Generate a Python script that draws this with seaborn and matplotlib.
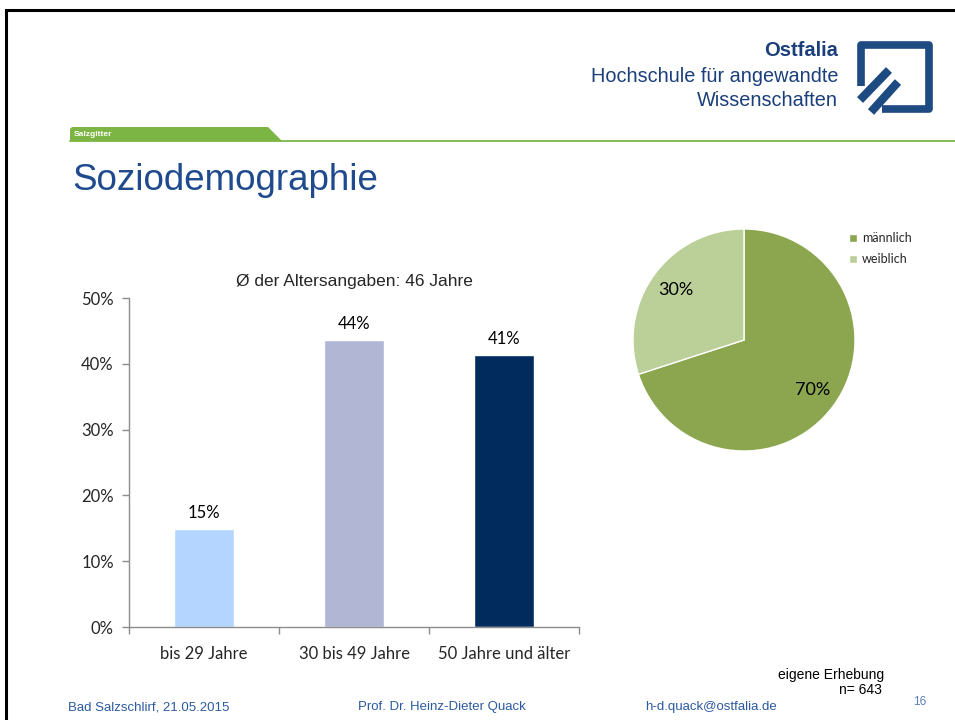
import matplotlib
matplotlib.use("Agg")
import matplotlib.pyplot as plt
import matplotlib.patches as mpatches
from matplotlib.ticker import PercentFormatter, FixedLocator
import seaborn as sns

# data
age_groups = ["bis 29 Jahre", "30 bis 49 Jahre", "50 Jahre und älter"]
age_shares = [0.149, 0.436, 0.413]
age_labels = ["15%", "44%", "41%"]
age_colors = ["#B3D5FF", "#B0B6D4", "#002B5C"]

gender = ["männlich", "weiblich"]
gender_shares = [70, 30]
gender_colors = ["#8BA64F", "#BBCF99"]

W, H = 955, 720
sns.set_theme(style="white")
plt.rcParams["font.family"] = ["Lato", "DejaVu Sans"]

fig = plt.figure(figsize=(W / 100, H / 100), dpi=100)
fig.patch.set_facecolor("white")


def px_axes(x0, y0, x1, y1, **kw):
    # rectangle in pixel coords (y from top)
    return fig.add_axes([x0 / W, 1 - y1 / H, (x1 - x0) / W, (y1 - y0) / H], **kw)


# slide decoration layer
deco = px_axes(0, 0, W, H)
deco.set_xlim(0, W)
deco.set_ylim(H, 0)
deco.axis("off")
deco.set_zorder(0)

deco.plot([6, 6, W + 5], [H + 5, 10, 10], color="black", lw=2.2, solid_joinstyle="miter")

green = "#7DB544"
deco.plot([70, W], [141, 141], color=green, lw=1.3)
deco.add_patch(mpatches.Polygon([[70, 141], [70, 129], [72, 127], [268, 127], [282, 141]],
                                closed=True, facecolor=green, edgecolor="none"))
deco.text(74, 134.5, "Salzgitter", color="white", fontsize=6, fontweight="bold",
          va="center", ha="left", family=["Liberation Sans", "DejaVu Sans"])

navy = "#1B3F7A"
arial = ["Liberation Sans", "DejaVu Sans"]
deco.text(838, 50, "Ostfalia", color=navy, fontsize=14.5, fontweight="bold",
          ha="right", va="center", family=arial)
deco.text(838, 77, "Hochschule für angewandte", color=navy, fontsize=14.3,
          ha="right", va="center", family=arial)
deco.text(838, 101, "Wissenschaften", color=navy, fontsize=14.3,
          ha="right", va="center", family=arial)

# logo
logo_c = "#1D4A80"
deco.plot([861, 861, 929, 929, 882], [86, 45, 45, 109, 109], color=logo_c, lw=5.5,
          solid_joinstyle="round", solid_capstyle="butt")
deco.plot([860, 889], [100, 70], color=logo_c, lw=6, solid_capstyle="butt")
deco.plot([871, 898], [112, 82], color=logo_c, lw=6, solid_capstyle="butt")

deco.text(72, 190, "Soziodemographie", color="#1F4B8E", fontsize=26.5,
          ha="left", va="baseline", family=arial)

foot_c = "#2C5AA0"
deco.text(68, 707, "Bad Salzschlirf, 21.05.2015", color=foot_c, fontsize=9.5,
          ha="left", va="center", family=arial)
deco.text(358, 707, "Prof. Dr. Heinz-Dieter Quack", color=foot_c, fontsize=9.5,
          ha="left", va="center", family=arial)
deco.text(645, 707, "h-d.quack@ostfalia.de", color=foot_c, fontsize=9.5,
          ha="left", va="center", family=arial)
deco.text(913, 702, "16", color="#5B7DB8", fontsize=8.5, ha="left", va="center", family=arial)
deco.text(884, 675, "eigene Erhebung", color="black", fontsize=10,
          ha="right", va="center", family=arial)
deco.text(882, 690, "n= 643", color="black", fontsize=10,
          ha="right", va="center", family=arial)

# bar chart
ax = px_axes(129, 298, 579, 627)
ax.set_zorder(2)
ax.patch.set_alpha(0)
sns.barplot(x=age_groups, y=age_shares, hue=age_groups, palette=age_colors,
            width=0.4, legend=False, saturation=1, ax=ax)
ax.set_xlim(-0.5, 2.5)
ax.set_ylim(0, 0.5)
ax.yaxis.set_major_locator(FixedLocator([0, 0.1, 0.2, 0.3, 0.4, 0.5]))
ax.yaxis.set_major_formatter(PercentFormatter(1.0, decimals=0))
for c, lab in zip(ax.containers, age_labels):
    ax.bar_label(c, labels=[lab], padding=6, fontsize=12, color="black")
sns.despine(ax=ax)
for s in ("left", "bottom"):
    ax.spines[s].set_color("#8C8C8C")
    ax.spines[s].set_linewidth(1)
ax.tick_params(axis="y", which="major", direction="out", length=5, width=1,
               color="#8C8C8C", labelsize=12, pad=6, left=True)
ax.tick_params(axis="x", which="major", length=0, labelsize=12, pad=14)
ax.set_xticks([-0.5, 0.5, 1.5, 2.5], minor=True)
ax.tick_params(axis="x", which="minor", direction="out", length=5, width=1,
               color="#8C8C8C", bottom=True)
ax.set_xlabel("")
ax.set_ylabel("")
ax.set_title("Ø der Altersangaben: 46 Jahre", fontsize=12.5, pad=9, family=arial)

# pie chart
pax = px_axes(633, 229, 855, 451)
pax.set_zorder(2)
wedges, _, autotexts = pax.pie(gender_shares, colors=gender_colors, startangle=90,
                               counterclock=False, autopct="%d%%", pctdistance=0.76,
                               wedgeprops=dict(edgecolor="white", linewidth=1),
                               textprops=dict(fontsize=13, color="black"))
pax.set_xlim(-1, 1)
pax.set_ylim(-1, 1)
pax.set_aspect("equal")
pax.axis("off")

fig.legend(wedges, gender, loc="upper left", bbox_to_anchor=(843 / W, 1 - 226 / H),
           frameon=False, fontsize=9, handlelength=0.6, handleheight=0.6,
           handletextpad=0.4, labelspacing=0.7, borderpad=0)

fig.savefig("out.png", dpi=100, facecolor="white")
